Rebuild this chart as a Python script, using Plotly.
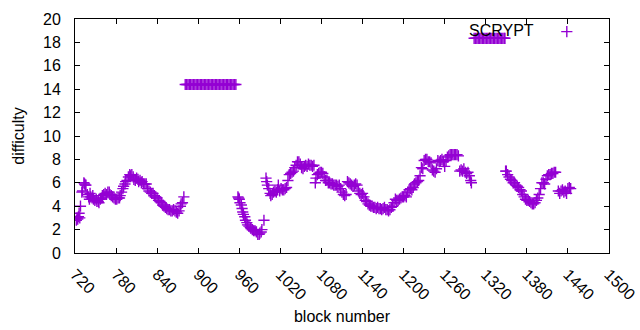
import plotly.graph_objects as go

# ---- data ----
blocks_a = [722, 723, 724, 725, 726, 727, 728, 730, 731, 733, 734, 735, 736, 738, 740, 741, 742, 743,
            745, 746, 747, 749, 751, 752, 754, 755, 757, 759, 760, 762, 764, 766, 768, 770, 771, 773,
            775, 777, 779, 781, 783, 785, 786, 788, 790, 791, 793, 794, 796, 798, 800, 801, 803, 805,
            806, 808, 810, 812, 813, 815, 817, 818, 820, 822, 824, 826, 828, 830, 832, 834, 836, 838,
            840, 842, 844, 846, 848, 850, 852, 854, 856, 858, 860, 862, 864, 866, 868, 870, 872, 874,
            875, 877, 879]
diff_a = [2.8, 3.0, 2.9, 3.1, 3.4, 3.0, 4.0, 5.2, 5.3, 6.0, 5.9, 5.8, 5.8, 5.0, 4.8, 4.6, 5.1, 4.8,
          4.7, 4.9, 4.6, 4.5, 4.6, 4.4, 4.4, 4.3, 4.6, 4.7, 4.9, 5.0, 5.1, 5.0, 5.2, 5.2, 5.0, 4.9,
          4.8, 4.7, 4.6, 4.6, 4.7, 4.7, 4.9, 5.2, 5.5, 5.7, 5.9, 6.1, 6.2, 6.5, 6.7, 6.6, 6.7, 6.5,
          6.3, 6.2, 6.4, 6.3, 6.1, 6.2, 6.0, 6.1, 5.9, 5.9, 5.9, 5.5, 5.3, 5.2, 5.1, 5.1, 4.9, 4.8,
          4.7, 4.5, 4.4, 4.3, 4.1, 4.0, 3.9, 3.8, 3.7, 3.7, 3.6, 3.6, 3.7, 3.6, 3.5, 3.4, 3.6, 4.0,
          4.2, 4.3, 4.8]

blocks_b = [881, 883, 885, 887, 889, 891, 893, 895, 897, 899, 901, 903, 905, 907, 909, 911, 913, 915,
            917, 919, 921, 923, 925, 927, 929, 931, 933, 935, 937, 939, 941, 943, 945, 947, 949, 951,
            953, 955]
diff_b = [14.4] * len(blocks_b)

blocks_c = [958, 959, 960, 961, 963, 964, 965, 966, 968, 969, 971, 972, 974, 976, 977, 979, 981, 983,
            985, 987, 989, 990, 992, 993, 996, 999, 1000, 1001, 1003, 1005, 1006, 1008, 1010, 1012,
            1014, 1016, 1017, 1019, 1021, 1023, 1025, 1027, 1029, 1031, 1033, 1035, 1037, 1039, 1041,
            1043, 1045, 1047, 1049, 1051, 1053, 1055, 1057, 1059, 1061, 1063, 1065, 1067, 1069, 1071,
            1072, 1074, 1076, 1078, 1080, 1082, 1084, 1086, 1088, 1090, 1092, 1094, 1096, 1098, 1100,
            1102, 1104, 1106, 1108, 1110, 1112, 1114, 1116, 1118, 1120, 1122, 1124, 1126, 1128, 1130,
            1132, 1134, 1136, 1138, 1140, 1142, 1144, 1146, 1148, 1150, 1152, 1154, 1156, 1158, 1160,
            1162, 1164, 1166, 1168, 1170, 1172, 1174, 1176, 1178, 1180, 1182, 1184, 1186, 1188, 1190,
            1192, 1194, 1196, 1198, 1200, 1202, 1204, 1206, 1208, 1210, 1212, 1214, 1216, 1218, 1220,
            1222, 1224, 1226, 1228, 1230, 1232, 1234, 1236, 1238, 1240, 1242, 1244, 1246, 1248, 1250,
            1252, 1254, 1256, 1258, 1260, 1262, 1264, 1266, 1268, 1270, 1272, 1274, 1276, 1278, 1280,
            1282, 1284, 1286, 1288, 1290, 1292, 1294, 1296, 1298, 1299]
diff_c = [4.8, 4.7, 4.6, 4.3, 4.1, 3.8, 3.5, 3.3, 3.1, 2.8, 2.6, 2.4, 2.3, 2.2, 2.1, 2.0, 1.9, 1.9,
          1.8, 1.6, 1.6, 1.7, 1.8, 2.0, 2.8, 6.4, 6.1, 5.8, 5.5, 5.1, 4.9, 5.0, 5.2, 5.3,
          5.2, 5.4, 5.8, 5.3, 5.5, 5.4, 5.4, 5.5, 5.6, 6.2, 6.7, 6.8, 6.9, 7.0, 7.3,
          7.5, 7.8, 7.8, 7.6, 7.3, 7.2, 7.4, 7.5, 7.4, 7.6, 7.5, 7.5, 7.4, 7.5, 6.0,
          6.4, 6.7, 6.8, 6.9, 6.9, 6.8, 6.5, 6.2, 6.2, 6.0, 6.0, 5.9, 5.9, 5.8, 5.8,
          5.8, 5.7, 5.8, 5.5, 5.2, 5.0, 4.9, 5.0, 6.1, 6.0, 5.9, 5.8, 5.7, 5.8, 5.9,
          5.8, 5.3, 5.1, 5.0, 5.1, 4.8, 4.5, 4.4, 4.2, 4.1, 4.0, 4.0, 3.9, 3.9, 3.8,
          3.9, 3.8, 3.8, 3.7, 3.8, 3.9, 3.7, 3.7, 3.6, 3.7, 3.9, 4.0, 4.3, 4.6, 4.5,
          4.5, 4.6, 4.7, 4.8, 4.8, 4.9, 4.8, 5.2, 5.4, 5.5, 5.4, 5.6, 5.9, 6.0, 6.1,
          6.2, 6.6, 7.3, 7.2, 7.9, 8.0, 8.0, 7.8, 7.8, 7.7, 7.1, 7.0, 6.9, 7.2, 7.9,
          7.8, 7.9, 8.0, 7.8, 7.4, 7.9, 8.2, 8.3, 8.4, 8.4, 8.4, 8.4, 8.4, 8.4, 8.3,
          7.0, 7.1, 7.0, 7.2, 6.9, 6.8, 6.9, 6.6, 6.2, 6.0]

blocks_d = [1303, 1305, 1307, 1309, 1311, 1313, 1315, 1317, 1319, 1321, 1323, 1325, 1327, 1329, 1331,
            1333, 1335, 1337, 1339, 1341, 1343, 1345, 1347, 1348]
diff_d = [18.35] * len(blocks_d)

blocks_e = [1349, 1350, 1352, 1354, 1356, 1358, 1360, 1362, 1364, 1366, 1368, 1370, 1372, 1374, 1376,
            1378, 1380, 1382, 1384, 1386, 1388, 1390, 1392, 1394, 1396, 1398, 1400, 1402, 1404, 1406,
            1408, 1410, 1412, 1414, 1416, 1418, 1420, 1422, 1426, 1428, 1430, 1432, 1434, 1436, 1438,
            1440, 1442, 1444]
diff_e = [7.0, 7.0, 6.7, 6.5, 6.3, 6.2, 6.0, 6.0, 5.8, 5.7, 5.6, 5.4, 5.3, 5.0, 4.8,
          4.6, 4.5, 4.5, 4.4, 4.3, 4.2, 4.2, 4.3, 4.5, 4.7, 5.0, 5.5, 6.0, 6.0, 5.9,
          6.3, 6.6, 6.7, 6.7, 6.8, 6.8, 6.9, 6.9, 5.3, 5.1, 5.3, 5.4, 5.2, 5.3, 5.1,
          5.5, 5.6, 5.5]

x_ticks = [720, 780, 840, 900, 960, 1020, 1080, 1140, 1200, 1260, 1320, 1380, 1440, 1500]
y_ticks = [0, 2, 4, 6, 8, 10, 12, 14, 16, 18, 20]
series_name = "SCRYPT"

# ---- figure ----
COLOR = "#9400D3"
FONT = "Liberation Sans"

blocks = blocks_a + blocks_b + blocks_c + blocks_d + blocks_e
diffs = diff_a + diff_b + diff_c + diff_d + diff_e

marker = dict(symbol="cross-thin", size=8, color=COLOR, line=dict(color=COLOR, width=1.4))

fig = go.Figure()
fig.add_trace(go.Scatter(x=blocks, y=diffs, mode="markers", marker=marker,
                         name=series_name, showlegend=False))
# legend sample (gnuplot style: text then sample on the right)
fig.add_trace(go.Scatter(x=[0.921], y=[0.946], xaxis="x2", yaxis="y2", mode="markers",
                         marker=marker, showlegend=False, hoverinfo="skip"))

axis_common = dict(showline=True, linecolor="black", linewidth=1, mirror="allticks",
                   ticks="inside", ticklen=5, tickcolor="black", tickwidth=1,
                   showgrid=False, zeroline=False, automargin=False,
                   tickfont=dict(family=FONT, size=16, color="black"))

fig.update_layout(
    width=640, height=330,
    margin=dict(l=75, r=31, t=19, b=77),
    paper_bgcolor="white", plot_bgcolor="white",
    font=dict(family=FONT, size=16, color="black"),
    xaxis=dict(range=[720, 1500], tickvals=x_ticks, ticktext=[str(v) for v in x_ticks],
               tickangle=45, ticklabelstandoff=5,
               title=dict(text="block number", font=dict(family=FONT, size=16), standoff=8),
               **axis_common),
    yaxis=dict(range=[0, 20], tickvals=y_ticks, ticktext=[str(v) for v in y_ticks],
               ticklabelstandoff=10,
               title=dict(text="difficulty", font=dict(family=FONT, size=16), standoff=14),
               **axis_common),
    xaxis2=dict(range=[0, 1], overlaying="x", visible=False, fixedrange=True),
    yaxis2=dict(range=[0, 1], overlaying="y", visible=False, fixedrange=True),
    annotations=[dict(text=series_name, xref="paper", yref="paper", x=0.864, y=0.95,
                      xanchor="right", yanchor="middle", showarrow=False,
                      font=dict(family=FONT, size=16, color="black"))],
    showlegend=False,
)

fig.write_html("out.html", config={"displayModeBar": False},
               post_script="document.body.style.margin='0';")
